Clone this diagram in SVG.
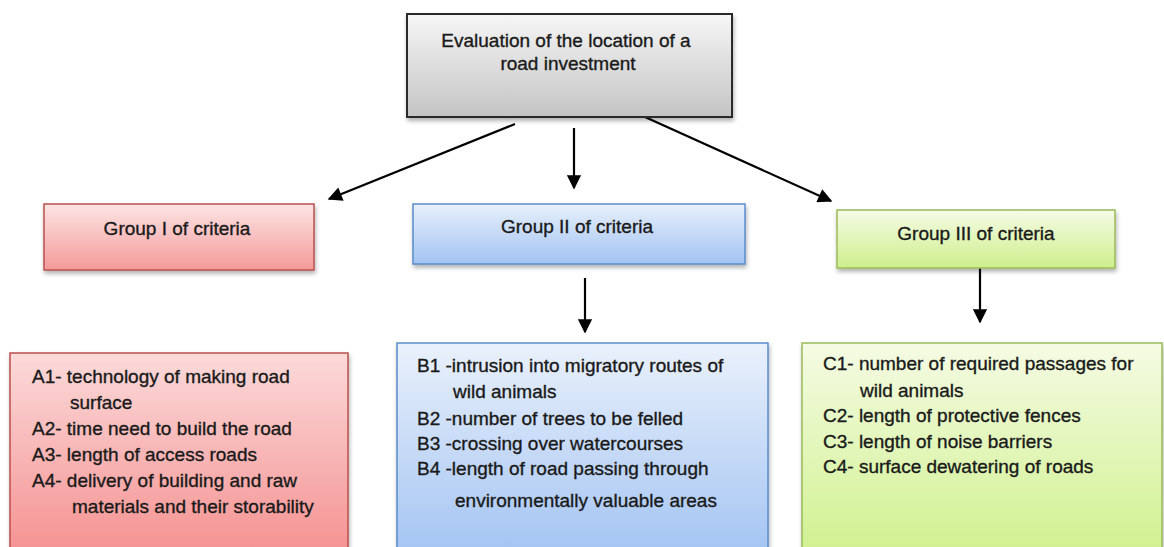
<svg xmlns="http://www.w3.org/2000/svg" width="1164" height="547" viewBox="0 0 1164 547">
<style>
text{font-family:"Liberation Sans",Arial,sans-serif;fill:#1a1a1a;stroke:#1a1a1a;stroke-width:0.35}
.t{font-size:19px}
.b{font-size:19px}
.edge{stroke:#000;stroke-width:2.2;fill:none;marker-end:url(#ah)}
</style>
<defs>
<marker id="ah" viewBox="0 0 10 10" refX="9" refY="5" markerWidth="7.5" markerHeight="6.5" orient="auto" markerUnits="strokeWidth"><path d="M0,0L10,5L0,10z" fill="#000"/></marker>
<filter id="sh" x="-5%" y="-5%" width="112%" height="125%"><feDropShadow dx="1" dy="3" stdDeviation="2" flood-color="#000" flood-opacity="0.3"/></filter>
<linearGradient id="gGray" x1="0" y1="0" x2="0" y2="1"><stop offset="0" stop-color="#f6f6f6"/><stop offset="1" stop-color="#c4c4c4"/></linearGradient>
<linearGradient id="gRed" x1="0" y1="0" x2="0" y2="1"><stop offset="0" stop-color="#fde4e4"/><stop offset="1" stop-color="#f49a9a"/></linearGradient>
<linearGradient id="gBlue" x1="0" y1="0" x2="0" y2="1"><stop offset="0" stop-color="#e8f0fc"/><stop offset="1" stop-color="#a2c3f2"/></linearGradient>
<linearGradient id="gGreen" x1="0" y1="0" x2="0" y2="1"><stop offset="0" stop-color="#f6fbe6"/><stop offset="1" stop-color="#cdef8c"/></linearGradient>
<linearGradient id="gRed2" x1="0" y1="0" x2="0" y2="1"><stop offset="0" stop-color="#fcdada"/><stop offset="1" stop-color="#f59292"/></linearGradient>
<linearGradient id="gBlue2" x1="0" y1="0" x2="0" y2="1"><stop offset="0" stop-color="#eaf1fc"/><stop offset="1" stop-color="#a4c4f3"/></linearGradient>
<linearGradient id="gGreen2" x1="0" y1="0" x2="0" y2="1"><stop offset="0" stop-color="#f5fbe4"/><stop offset="1" stop-color="#d0f190"/></linearGradient>
</defs>
<rect width="1164" height="547" fill="#fff"/>

<g id="connectors">
<line class="edge" x1="515" y1="124" x2="329" y2="199"/>
<line class="edge" x1="574" y1="128" x2="574" y2="188"/>
<line class="edge" x1="645" y1="117" x2="831" y2="201"/>
<line class="edge" x1="585" y1="278" x2="585" y2="332"/>
<line class="edge" x1="980" y1="268" x2="980" y2="322"/>
</g>

<g id="root">
<rect x="407" y="14" width="325" height="103" fill="url(#gGray)" stroke="#2b2b2b" stroke-width="2" filter="url(#sh)"/>
<text class="t" x="566" y="47" text-anchor="middle">Evaluation of the location of a</text>
<text class="t" x="568" y="70" text-anchor="middle">road investment</text>
</g>

<g id="group1">
<rect x="44" y="204" width="270" height="66" fill="url(#gRed)" stroke="#b9504e" stroke-width="1.5" filter="url(#sh)"/>
<text class="t" x="177" y="235" text-anchor="middle">Group I of criteria</text>
</g>

<g id="group2">
<rect x="413" y="204" width="332" height="60" fill="url(#gBlue)" stroke="#5a8ccb" stroke-width="1.5" filter="url(#sh)"/>
<text class="t" x="577" y="233" text-anchor="middle">Group II of criteria</text>
</g>

<g id="group3">
<rect x="837" y="210" width="278" height="58" fill="url(#gGreen)" stroke="#9cba5a" stroke-width="1.5" filter="url(#sh)"/>
<text class="t" x="976" y="240" text-anchor="middle">Group III of criteria</text>
</g>

<g id="listA">
<rect x="10" y="353" width="338" height="200" fill="url(#gRed2)" stroke="#b9504e" stroke-width="1.5" filter="url(#sh)"/>
<text class="b" x="32" y="383">A1- technology of making road</text>
<text class="b" x="70" y="409">surface</text>
<text class="b" x="32" y="435">A2- time need to build the road</text>
<text class="b" x="32" y="461">A3- length of access roads</text>
<text class="b" x="32" y="487">A4- delivery of building and raw</text>
<text class="b" x="72" y="513">materials and their storability</text>
</g>

<g id="listB">
<rect x="397" y="343" width="371" height="210" fill="url(#gBlue2)" stroke="#5a8ccb" stroke-width="1.5" filter="url(#sh)"/>
<text class="b" x="417" y="372">B1 -intrusion into migratory routes of</text>
<text class="b" x="453" y="398">wild animals</text>
<text class="b" x="417" y="425">B2 -number of trees to be felled</text>
<text class="b" x="417" y="450">B3 -crossing over watercourses</text>
<text class="b" x="417" y="475">B4 -length of road passing through</text>
<text class="b" x="455" y="507">environmentally valuable areas</text>
</g>

<g id="listC">
<rect x="802" y="343" width="360" height="210" fill="url(#gGreen2)" stroke="#9cba5a" stroke-width="1.5" filter="url(#sh)"/>
<text class="b" x="823" y="370">C1- number of required passages for</text>
<text class="b" x="860" y="397">wild animals</text>
<text class="b" x="823" y="422">C2- length of protective fences</text>
<text class="b" x="823" y="448">C3- length of noise barriers</text>
<text class="b" x="823" y="473">C4- surface dewatering of roads</text>
</g>
</svg>
